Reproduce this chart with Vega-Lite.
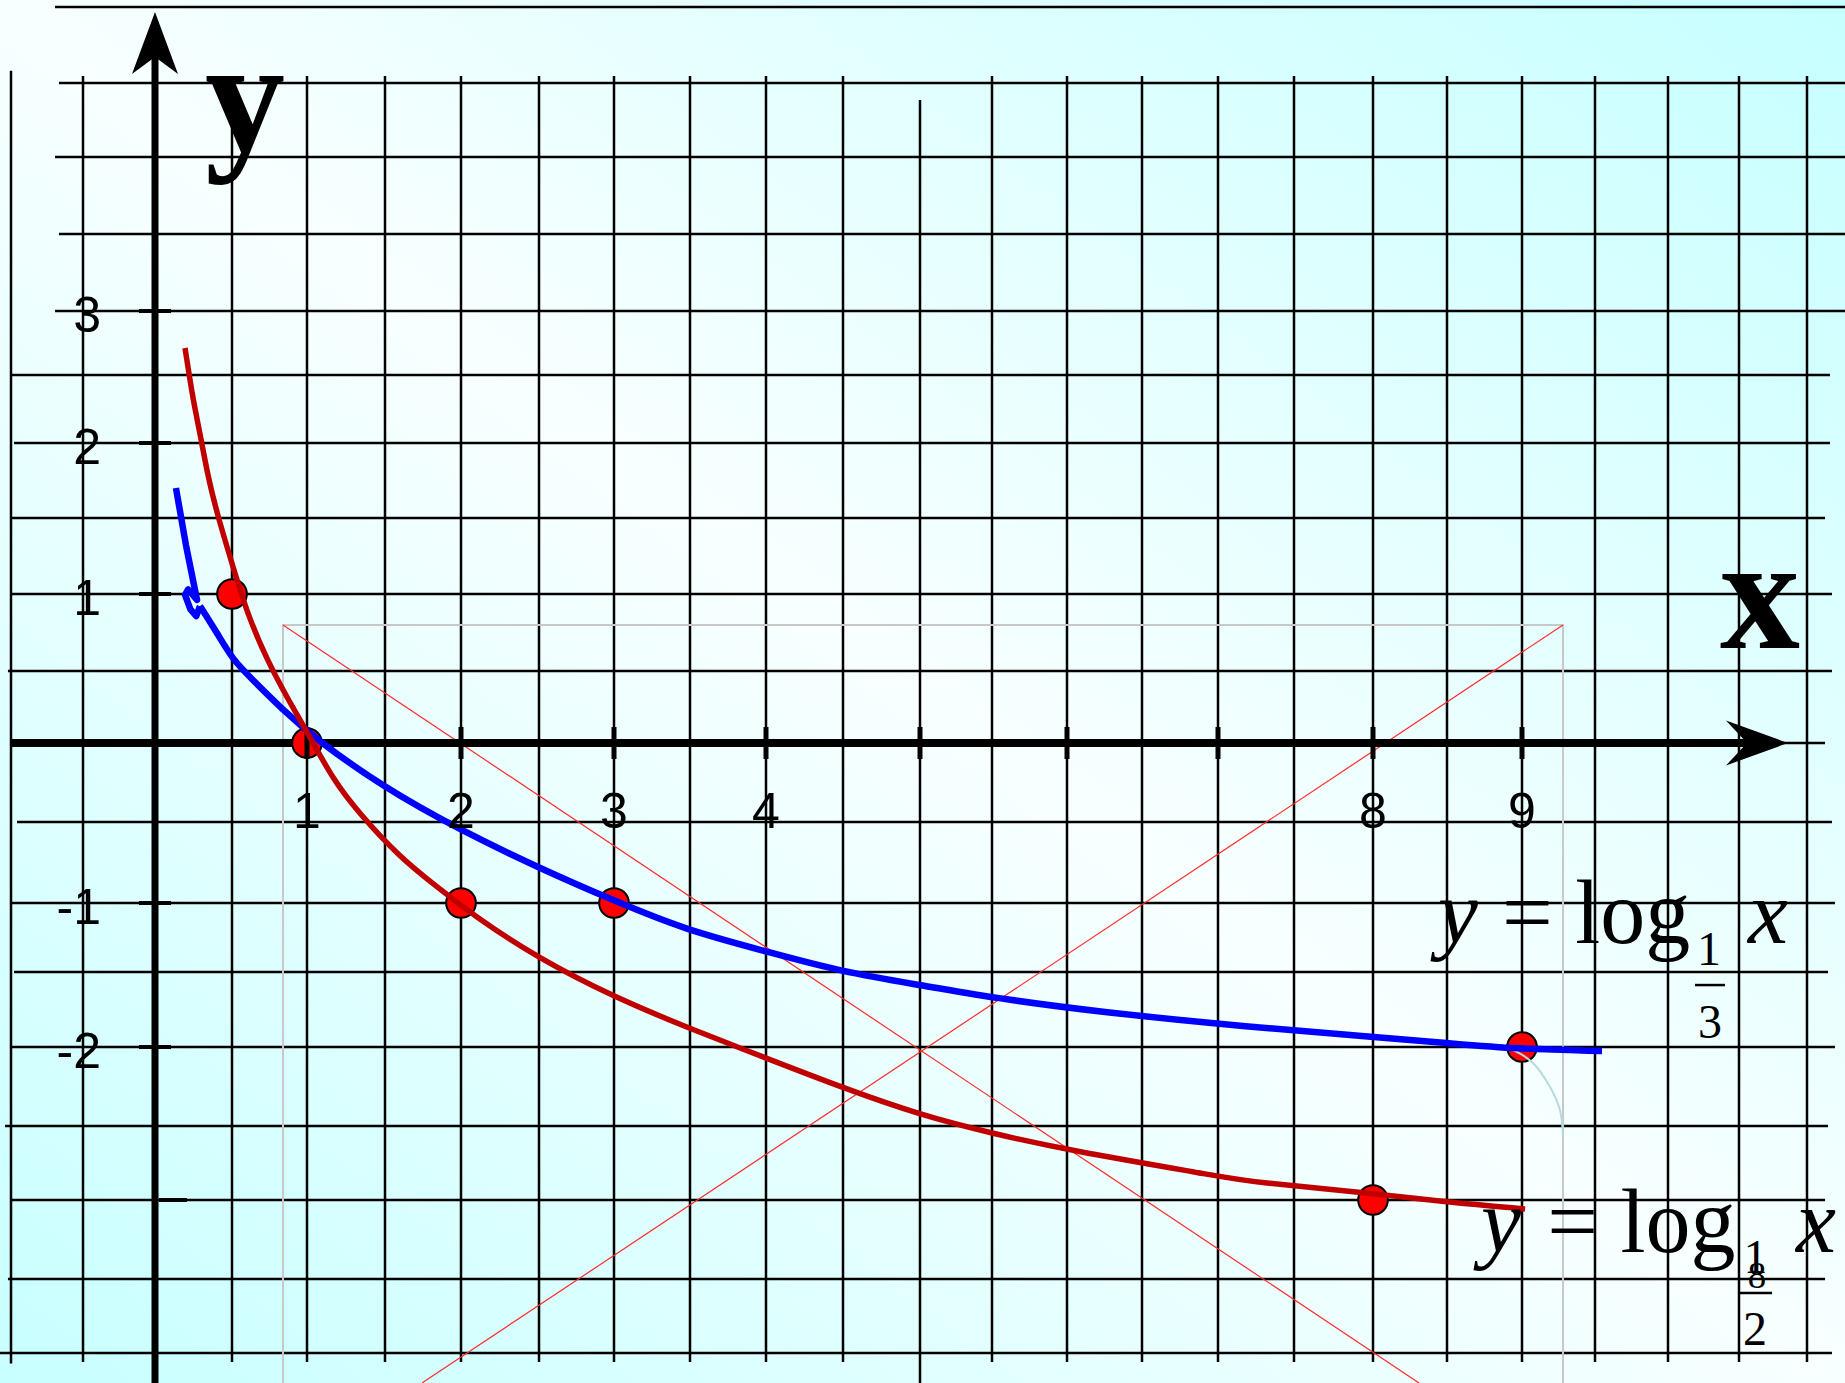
{
  "$schema": "https://vega.github.io/schema/vega-lite/v6.json",
  "width": 1845,
  "height": 1383,
  "padding": 0,
  "autosize": {"type": "none"},
  "background": "#e6ffff",
  "config": {"view": {"stroke": null}},
  "datasets": {
    "backdrop": [{"x": -1.076, "x2": 11.28, "y": -4.2, "y2": 5.046}],
    "vgrid": [
      {"x": -1, "y": 4.58, "y2": -4.07},
      {"x": -0.5, "y": 4.546, "y2": -4.06},
      {"x": 0.5, "y": 4.546, "y2": -4.06},
      {"x": 1, "y": 4.546, "y2": -4.06},
      {"x": 1.5, "y": 4.546, "y2": -4.06},
      {"x": 2, "y": 4.546, "y2": -4.06},
      {"x": 2.5, "y": 4.546, "y2": -4.06},
      {"x": 3, "y": 4.546, "y2": -4.06},
      {"x": 3.5, "y": 4.546, "y2": -4.06},
      {"x": 4, "y": 4.546, "y2": -4.06},
      {"x": 4.5, "y": 4.546, "y2": -4.06},
      {"x": 5, "y": 4.385, "y2": -4.2},
      {"x": 5.5, "y": 4.546, "y2": -4.06},
      {"x": 6, "y": 4.546, "y2": -4.06},
      {"x": 6.5, "y": 4.546, "y2": -4.06},
      {"x": 7, "y": 4.546, "y2": -4.06},
      {"x": 7.5, "y": 4.546, "y2": -4.06},
      {"x": 8, "y": 4.546, "y2": -4.06},
      {"x": 8.5, "y": 4.546, "y2": -4.06},
      {"x": 9, "y": 4.546, "y2": -4.06},
      {"x": 9.5, "y": 4.546, "y2": -4.06},
      {"x": 10, "y": 4.546, "y2": -4.06},
      {"x": 10.5, "y": 4.546, "y2": -4.06},
      {"x": 11, "y": 4.546, "y2": -4.06}
    ],
    "hgrid": [
      {"y": 5, "x": -0.694, "x2": 11.28},
      {"y": 4.5, "x": -0.667, "x2": 11.28},
      {"y": 4, "x": -0.694, "x2": 11.28},
      {"y": 3.5, "x": -0.667, "x2": 11.28},
      {"y": 3, "x": -0.694, "x2": 11.28},
      {"y": 2.5, "x": -1.0, "x2": 11.169},
      {"y": 2, "x": -0.979, "x2": 11.169},
      {"y": 1.5, "x": -1.0, "x2": 11.133},
      {"y": 1, "x": -1.0, "x2": 11.184},
      {"y": 0.5, "x": -1.021, "x2": 11.184},
      {"y": 0, "x": -1.0, "x2": 11.133},
      {"y": -0.5, "x": -0.958, "x2": 11.184},
      {"y": -1, "x": -1.0, "x2": 11.206},
      {"y": -1.5, "x": -0.979, "x2": 11.155},
      {"y": -2, "x": -1.0, "x2": 11.206},
      {"y": -2.5, "x": -1.041, "x2": 11.155},
      {"y": -3, "x": -1.0, "x2": 11.133},
      {"y": -3.5, "x": -1.021, "x2": 11.133},
      {"y": -4, "x": -1.076, "x2": 11.184}
    ],
    "frame": [
      {"o": 0, "x": 0.84, "y": -4.2},
      {"o": 1, "x": 0.84, "y": 0.799},
      {"o": 2, "x": 9.281, "y": 0.799},
      {"o": 3, "x": 9.281, "y": -4.2}
    ],
    "diagonals": [
      {"x": 0.84, "y": 0.799, "x2": 8.311, "y2": -4.2},
      {"x": 9.281, "y": 0.799, "x2": 1.743, "y2": -4.2}
    ],
    "y_axis": [{"x": 0, "y": 4.671, "y2": -4.2}],
    "x_axis": [{"x": -1, "x2": 10.559, "y": 0}],
    "y_arrow": [{"x": 0, "y": 4.763}],
    "x_arrow": [{"x": 10.632, "y": 0}],
    "points": [
      {"x": 0.5, "y": 1},
      {"x": 1, "y": 0},
      {"x": 2, "y": -1},
      {"x": 3, "y": -1},
      {"x": 8, "y": -3},
      {"x": 9, "y": -2}
    ],
    "xticks": [
      {"x": 1, "y": 0.111, "y2": -0.101},
      {"x": 2, "y": 0.111, "y2": -0.101},
      {"x": 3, "y": 0.111, "y2": -0.101},
      {"x": 4, "y": 0.111, "y2": -0.101},
      {"x": 5, "y": 0.111, "y2": -0.101},
      {"x": 6, "y": 0.111, "y2": -0.101},
      {"x": 7, "y": 0.111, "y2": -0.101},
      {"x": 8, "y": 0.111, "y2": -0.101},
      {"x": 9, "y": 0.111, "y2": -0.101}
    ],
    "yticks": [
      {"y": 3, "x": -0.111, "x2": 0.104},
      {"y": 2, "x": -0.111, "x2": 0.104},
      {"y": 1, "x": -0.111, "x2": 0.104},
      {"y": -1, "x": -0.111, "x2": 0.104},
      {"y": -2, "x": -0.111, "x2": 0.104},
      {"y": -3, "x": 0.026, "x2": 0.208}
    ],
    "xlabels": [
      {"x": 1, "y": 0, "t": "1"}, {"x": 2, "y": 0, "t": "2"}, {"x": 3, "y": 0, "t": "3"},
      {"x": 4, "y": 0, "t": "4"}, {"x": 8, "y": 0, "t": "8"}, {"x": 9, "y": 0, "t": "9"}
    ],
    "ylabels": [
      {"x": 0, "y": 3, "t": "3"}, {"x": 0, "y": 2, "t": "2"}, {"x": 0, "y": 1, "t": "1"},
      {"x": 0, "y": -1, "t": "-1"}, {"x": 0, "y": -2, "t": "-2"}
    ],
    "arc": [
      {"o": 0, "x": 8.82, "y": -1.987},
      {"o": 1, "x": 8.94, "y": -2.019},
      {"o": 2, "x": 9.075, "y": -2.101},
      {"o": 3, "x": 9.192, "y": -2.253},
      {"o": 4, "x": 9.26, "y": -2.399},
      {"o": 5, "x": 9.281, "y": -2.574}
    ],
    "blue_start": [
      {"o": 0, "x": 0.136, "y": 1.70},
      {"o": 1, "x": 0.201, "y": 1.322},
      {"o": 2, "x": 0.273, "y": 0.961},
      {"o": 3, "x": 0.215, "y": 1.03},
      {"o": 4, "x": 0.195, "y": 0.995},
      {"o": 5, "x": 0.23, "y": 0.9},
      {"o": 6, "x": 0.268, "y": 0.857},
      {"o": 7, "x": 0.292, "y": 0.922}
    ],
    "blue": [
      {"x": 0.292, "y": 0.922},
      {"x": 0.403, "y": 0.747},
      {"x": 0.507, "y": 0.571},
      {"x": 0.62, "y": 0.458},
      {"x": 0.84, "y": 0.229},
      {"x": 1.064, "y": 0.021},
      {"x": 1.487, "y": -0.278},
      {"x": 1.993, "y": -0.549},
      {"x": 2.487, "y": -0.778},
      {"x": 3.02, "y": -0.994},
      {"x": 3.474, "y": -1.196},
      {"x": 3.993, "y": -1.348},
      {"x": 4.494, "y": -1.5},
      {"x": 5.0, "y": -1.587},
      {"x": 5.513, "y": -1.673},
      {"x": 6.22, "y": -1.767},
      {"x": 7.211, "y": -1.867},
      {"x": 8.0, "y": -1.933},
      {"x": 8.5, "y": -1.973},
      {"x": 8.967, "y": -2.013},
      {"x": 9.548, "y": -2.025}
    ],
    "red": [
      {"x": 0.195, "y": 2.711},
      {"x": 0.247, "y": 2.316},
      {"x": 0.292, "y": 2.074},
      {"x": 0.344, "y": 1.773},
      {"x": 0.409, "y": 1.507},
      {"x": 0.507, "y": 1.178},
      {"x": 0.6, "y": 0.877},
      {"x": 0.733, "y": 0.571},
      {"x": 0.887, "y": 0.278},
      {"x": 1.019, "y": 0.042},
      {"x": 1.167, "y": -0.23},
      {"x": 1.321, "y": -0.43},
      {"x": 1.599, "y": -0.72},
      {"x": 1.842, "y": -0.9},
      {"x": 2.103, "y": -1.109},
      {"x": 2.494, "y": -1.399},
      {"x": 3.0, "y": -1.667},
      {"x": 3.474, "y": -1.867},
      {"x": 4.0, "y": -2.07},
      {"x": 4.5, "y": -2.259},
      {"x": 5.0, "y": -2.43},
      {"x": 5.486, "y": -2.547},
      {"x": 6.0, "y": -2.662},
      {"x": 7.0, "y": -2.838},
      {"x": 7.211, "y": -2.878},
      {"x": 7.987, "y": -2.953},
      {"x": 8.5, "y": -3.013},
      {"x": 9.021, "y": -3.057}
    ],
    "axis_letters": [
      {"x": 0.587, "y": 4.041, "t": "y"},
      {"x": 10.654, "y": 0.649, "t": "x"}
    ],
    "formula_italic": [
      {"x": 8.573, "y": -1.29, "t": "y"},
      {"x": 10.713, "y": -1.29, "t": "x"},
      {"x": 8.86, "y": -3.329, "t": "y"},
      {"x": 11.066, "y": -3.329, "t": "x"}
    ],
    "formula_upright": [
      {"x": 9.507, "y": -1.29, "t": "= log"},
      {"x": 9.818, "y": -3.329, "t": "= log"}
    ],
    "formula_base": [
      {"x": 10.289, "y": -1.449, "t": "1"},
      {"x": 10.296, "y": -1.94, "t": "3"},
      {"x": 10.621, "y": -3.462, "t": "1"},
      {"x": 10.618, "y": -3.946, "t": "2"}
    ],
    "formula_tiny": [
      {"x": 10.632, "y": -3.561, "t": "8"}
    ],
    "fraction_bars": [
      {"x": 10.19, "x2": 10.401, "y": -1.587},
      {"x": 10.5, "x2": 10.743, "y": -3.595}
    ]
  },
  "encoding": {
    "x": {
      "field": "x",
      "type": "quantitative",
      "axis": null,
      "scale": {
        "domain": [-1.076, -1, -0.5, 0, 0.5, 1, 1.5, 2, 2.5, 3, 3.5, 4, 4.5, 5, 5.5, 6, 6.5, 7, 7.5, 8, 8.5, 9, 9.5, 10, 10.5, 11, 11.28],
        "range": [0, 11, 83, 155, 232, 307, 385, 461, 539, 614, 690, 766, 843, 920, 992, 1067, 1142, 1218, 1294, 1373, 1447, 1522, 1595, 1668, 1739, 1807, 1845],
        "nice": false,
        "zero": false
      }
    },
    "y": {
      "field": "y",
      "type": "quantitative",
      "axis": null,
      "scale": {
        "domain": [-4.2, -4, -3.5, -3, -2.5, -2, -1.5, -1, -0.5, 0, 0.5, 1, 1.5, 2, 2.5, 3, 3.5, 4, 4.5, 5, 5.046],
        "range": [1383, 1353, 1279, 1200, 1126, 1047, 972, 903, 822, 743, 671, 594, 518, 443, 375, 311, 234, 157, 83, 7, 0],
        "nice": false,
        "zero": false
      }
    }
  },
  "layer": [
    {
      "data": {"name": "backdrop"},
      "mark": {
        "type": "rect",
        "stroke": null,
        "fill": {
          "gradient": "linear",
          "x1": 1, "y1": 0, "x2": 0, "y2": 1,
          "stops": [
            {"offset": 0, "color": "#c6ffff"},
            {"offset": 0.5, "color": "#f8ffff"},
            {"offset": 1, "color": "#c8ffff"}
          ]
        }
      },
      "encoding": {"x2": {"field": "x2"}, "y2": {"field": "y2"}}
    },
    {
      "data": {"name": "vgrid"},
      "mark": {"type": "rule", "color": "#000000", "strokeWidth": 2.5},
      "encoding": {"y2": {"field": "y2"}}
    },
    {
      "data": {"name": "hgrid"},
      "mark": {"type": "rule", "color": "#000000", "strokeWidth": 2.5},
      "encoding": {"x2": {"field": "x2"}}
    },
    {
      "data": {"name": "frame"},
      "mark": {"type": "line", "color": "#c8c8c8", "strokeWidth": 2},
      "encoding": {"order": {"field": "o"}}
    },
    {
      "data": {"name": "diagonals"},
      "mark": {"type": "rule", "color": "#ff2a2a", "strokeWidth": 1.2},
      "encoding": {"x2": {"field": "x2"}, "y2": {"field": "y2"}}
    },
    {
      "data": {"name": "y_axis"},
      "mark": {"type": "rule", "color": "#000000", "strokeWidth": 7},
      "encoding": {"y2": {"field": "y2"}}
    },
    {
      "data": {"name": "x_axis"},
      "mark": {"type": "rule", "color": "#000000", "strokeWidth": 8},
      "encoding": {"x2": {"field": "x2"}}
    },
    {
      "data": {"name": "y_arrow"},
      "mark": {"type": "point", "shape": "M0,-1L0.742,1L0,0.452L-0.742,1Z", "size": 3844, "filled": true, "color": "#000000", "opacity": 1, "strokeWidth": 0}
    },
    {
      "data": {"name": "x_arrow"},
      "mark": {"type": "point", "shape": "M1,0L-1,-0.726L-0.32,0L-1,0.726Z", "size": 3844, "filled": true, "color": "#000000", "opacity": 1, "strokeWidth": 0}
    },
    {
      "data": {"name": "points"},
      "mark": {"type": "point", "filled": true, "fill": "#ff0000", "stroke": "#000000", "strokeWidth": 2, "size": 880, "opacity": 1, "fillOpacity": 1, "strokeOpacity": 1}
    },
    {
      "data": {"name": "xticks"},
      "mark": {"type": "rule", "color": "#000000", "strokeWidth": 5},
      "encoding": {"y2": {"field": "y2"}}
    },
    {
      "data": {"name": "yticks"},
      "mark": {"type": "rule", "color": "#000000", "strokeWidth": 4},
      "encoding": {"x2": {"field": "x2"}}
    },
    {
      "data": {"name": "arc"},
      "mark": {"type": "line", "color": "#b5dbe0", "strokeWidth": 2, "interpolate": "catmull-rom"},
      "encoding": {"order": {"field": "o"}}
    },
    {
      "data": {"name": "blue_start"},
      "mark": {"type": "line", "color": "#0000ff", "strokeWidth": 6.5, "strokeJoin": "round"},
      "encoding": {"order": {"field": "o"}}
    },
    {
      "data": {"name": "blue"},
      "mark": {"type": "line", "color": "#0000ff", "strokeWidth": 6.5, "interpolate": "basis"}
    },
    {
      "data": {"name": "red"},
      "mark": {"type": "line", "color": "#c00000", "strokeWidth": 5.5, "interpolate": "basis"}
    },
    {
      "data": {"name": "xlabels"},
      "mark": {"type": "text", "font": "Liberation Sans", "fontSize": 50, "color": "#000000", "align": "center", "baseline": "alphabetic", "dy": 85},
      "encoding": {"text": {"field": "t"}}
    },
    {
      "data": {"name": "ylabels"},
      "mark": {"type": "text", "font": "Liberation Sans", "fontSize": 50, "color": "#000000", "align": "right", "baseline": "alphabetic", "dx": -54, "dy": 21},
      "encoding": {"text": {"field": "t"}}
    },
    {
      "data": {"name": "axis_letters"},
      "mark": {"type": "text", "font": "Liberation Serif", "fontWeight": "bold", "fontSize": 160, "color": "#000000", "align": "center", "baseline": "alphabetic"},
      "encoding": {"text": {"field": "t"}}
    },
    {
      "data": {"name": "formula_italic"},
      "mark": {"type": "text", "font": "Liberation Serif", "fontStyle": "italic", "fontSize": 90, "color": "#000000", "align": "center", "baseline": "alphabetic"},
      "encoding": {"text": {"field": "t"}}
    },
    {
      "data": {"name": "formula_upright"},
      "mark": {"type": "text", "font": "Liberation Serif", "fontSize": 90, "color": "#000000", "align": "center", "baseline": "alphabetic"},
      "encoding": {"text": {"field": "t"}}
    },
    {
      "data": {"name": "formula_base"},
      "mark": {"type": "text", "font": "Liberation Serif", "fontSize": 48, "color": "#000000", "align": "center", "baseline": "alphabetic"},
      "encoding": {"text": {"field": "t"}}
    },
    {
      "data": {"name": "formula_tiny"},
      "mark": {"type": "text", "font": "Liberation Serif", "fontSize": 37, "color": "#000000", "align": "center", "baseline": "alphabetic"},
      "encoding": {"text": {"field": "t"}}
    },
    {
      "data": {"name": "fraction_bars"},
      "mark": {"type": "rule", "color": "#000000", "strokeWidth": 2.5},
      "encoding": {"x2": {"field": "x2"}}
    }
  ]
}
